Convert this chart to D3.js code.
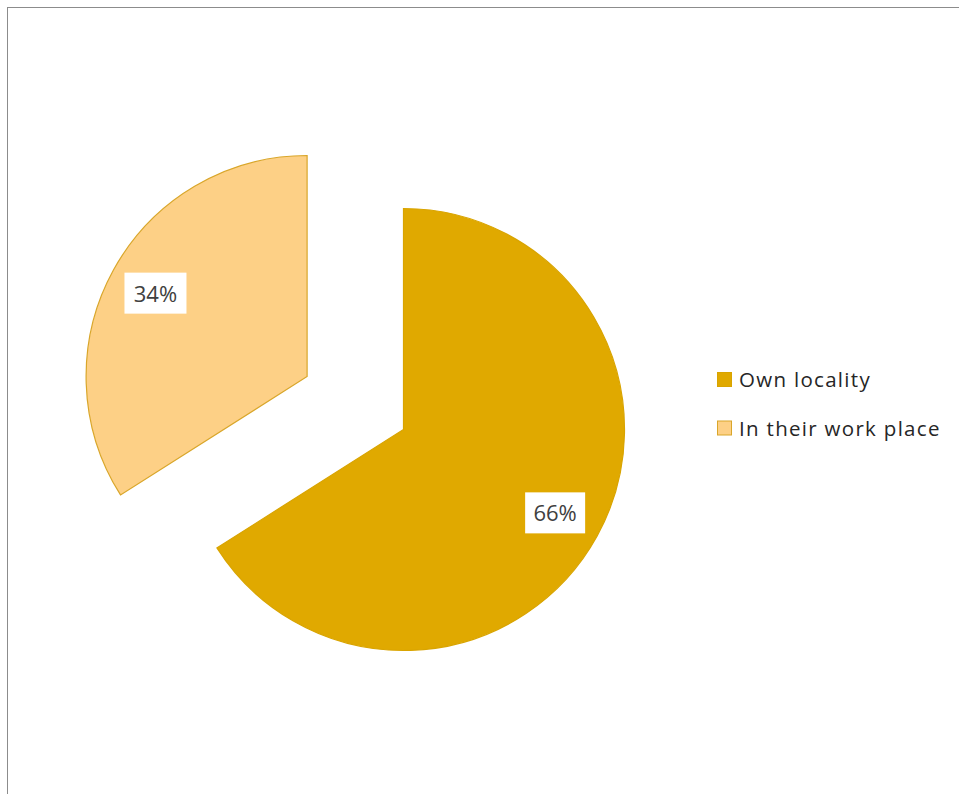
<!DOCTYPE html>
<html>
<head>
<meta charset="utf-8">
<script src="https://cdn.jsdelivr.net/npm/d3@7"></script>
<style>
  html, body { margin: 0; padding: 0; background: #fff; }
  svg { display: block; }
</style>
</head>
<body>
<svg id="chart" width="959" height="794"></svg>
<script>
// Where respondents are located
const categories = ["Own locality", "In their work place"];
const values = [66, 34];
const valueLabels = ["66%", "34%"];

const fills = ["#E0A900", "#FDD086"];
const strokes = ["#D9A400", "#D9A62A"];

const svg = d3.select("#chart");
const W = 959, H = 794;
const FONT = "'Open Sans', Lato, sans-serif";

// chart frame
svg.append("rect")
  .attr("x", 7.5).attr("y", 7.5)
  .attr("width", W + 10).attr("height", H + 10)
  .attr("fill", "#fff")
  .attr("stroke", "#8c8c8c")
  .attr("stroke-width", 1);

const cx = 403.5, cy = 429.5, r = 221;
const explode = [0, 110];

const pie = d3.pie().sort(null).value(d => d)
  .startAngle(0).endAngle(2 * Math.PI);
const arcs = pie(values);
const arc = d3.arc().innerRadius(0).outerRadius(r);

const g = svg.append("g").attr("transform", `translate(${cx},${cy})`);

const slices = g.selectAll("g.slice").data(arcs).enter().append("g")
  .attr("class", "slice")
  .attr("transform", (d, i) => {
    const mid = (d.startAngle + d.endAngle) / 2;
    const dx = Math.sin(mid) * explode[i];
    const dy = -Math.cos(mid) * explode[i];
    return `translate(${dx},${dy})`;
  });

slices.append("path")
  .attr("d", arc)
  .attr("fill", (d, i) => fills[i])
  .attr("stroke", (d, i) => strokes[i])
  .attr("stroke-width", 1.2)
  .attr("stroke-linejoin", "miter");

// data labels in white boxes
const labelArc = d3.arc().innerRadius(r * 0.783).outerRadius(r * 0.783);
slices.each(function (d, i) {
  const [lx, ly] = labelArc.centroid(d);
  const sel = d3.select(this);
  const bw = i === 0 ? 60 : 62, bh = 41;
  sel.append("rect")
    .attr("x", lx - bw / 2).attr("y", ly - bh / 2)
    .attr("width", bw).attr("height", bh)
    .attr("fill", "#fff");
  sel.append("text")
    .attr("x", lx).attr("y", ly + 8.5)
    .attr("text-anchor", "middle")
    .attr("font-family", FONT)
    .attr("font-size", 22)
    .attr("fill", "#404040")
    .text(valueLabels[i]);
});

// legend
const legend = svg.append("g").attr("transform", "translate(717,372)");
const items = legend.selectAll("g").data(categories).enter().append("g")
  .attr("transform", (d, i) => `translate(0,${i * 48.5})`);
items.append("rect")
  .attr("x", 0.5).attr("y", 0.5)
  .attr("width", 14).attr("height", 14)
  .attr("fill", (d, i) => fills[i])
  .attr("stroke", (d, i) => strokes[i])
  .attr("stroke-width", 1);
items.append("text")
  .attr("x", 22).attr("y", 15)
  .attr("font-family", FONT)
  .attr("font-size", 20.5)
  .attr("letter-spacing", 1.3)
  .attr("fill", "#262626")
  .text(d => d);
</script>
</body>
</html>
